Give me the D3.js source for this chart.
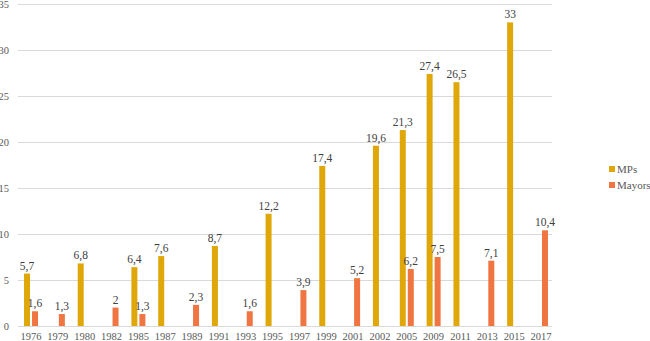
<!DOCTYPE html>
<html><head><meta charset="utf-8">
<script src="https://cdn.jsdelivr.net/npm/d3@7"></script>
<style>body{margin:0;background:#fff}svg{display:block}</style>
</head><body>
<svg id="c" width="650" height="341"></svg>
<script>
const years = ["1976","1979","1980","1982","1985","1987","1989","1991","1993","1995","1997","1999","2001","2002","2005","2009","2011","2013","2015","2017"];
const mps =    [5.7, null, 6.8, null, 6.4, 7.6, null, 8.7, null, 12.2, null, 17.4, null, 19.6, 21.3, 27.4, 26.5, null, 33, null];
const mayors = [1.6, 1.3, null, 2, 1.3, null, 2.3, null, 1.6, null, 3.9, null, 5.2, null, 6.2, 7.5, null, 7.1, null, 10.4];
const seriesNames = ["MPs","Mayors"];
const yTicks = [0,5,10,15,20,25,30,35];
const colors = {MPs:"#E0A70A", Mayors:"#EF7642"};
const FONT = '"Liberation Serif"';

const svg = d3.select("#c");
const x = d3.scaleBand().domain(years).range([17.6, 554.4]).padding(0);
const y = d3.scaleLinear().domain([0,35]).range([326, 4]);
const xs = d3.scaleBand().domain(seriesNames).range([-7, 7]).paddingInner(0.25).paddingOuter(0);

// gridlines
svg.append("g").selectAll("line").data(yTicks).join("line")
  .attr("x1", 18).attr("x2", 552)
  .attr("y1", d => Math.round(y(d)) + 0.5).attr("y2", d => Math.round(y(d)) + 0.5)
  .attr("stroke", "#d9d9d9").attr("stroke-width", 1);

// y labels
svg.append("g").selectAll("text").data(yTicks).join("text")
  .attr("x", 9).attr("y", d => y(d) + 3.5)
  .attr("text-anchor", "end").style("font-family", FONT).style("font-size", "10.5px")
  .style("fill", "#595959").text(d => d);

// x labels
svg.append("g").selectAll("text").data(years).join("text")
  .attr("x", d => x(d) + x.bandwidth()/2).attr("y", 340)
  .attr("text-anchor", "middle").style("font-family", FONT).style("font-size", "10.5px")
  .style("fill", "#595959").text(d => d);

const rows = [];
years.forEach((yr, i) => {
  [["MPs", mps[i]], ["Mayors", mayors[i]]].forEach(([s, v]) => {
    if (v != null) rows.push({yr, s, v});
  });
});

const fmt = v => String(v).replace(".", ",");

svg.append("g").selectAll("rect").data(rows).join("rect")
  .attr("x", d => x(d.yr) + x.bandwidth()/2 + xs(d.s))
  .attr("width", xs.bandwidth())
  .attr("y", d => y(d.v)).attr("height", d => y(0) - y(d.v))
  .attr("fill", d => colors[d.s]);

svg.append("g").selectAll("text").data(rows).join("text")
  .attr("x", d => x(d.yr) + x.bandwidth()/2 + xs(d.s) + xs.bandwidth()/2)
  .attr("y", d => y(d.v) - 4)
  .attr("text-anchor", "middle").style("font-family", FONT).style("font-size", "11.5px")
  .style("fill", "#404040").text(d => fmt(d.v));

// legend
const lg = svg.append("g").selectAll("g").data(seriesNames).join("g")
  .attr("transform", (d, i) => `translate(609,${169 + i*16})`);
lg.append("rect").attr("x", 0).attr("y", -3).attr("width", 6).attr("height", 6).attr("fill", d => colors[d]);
lg.append("text").attr("x", 8).attr("y", 4).style("font-family", FONT).style("font-size", "11px")
  .style("fill", "#595959").text(d => d);
</script>
</body></html>
